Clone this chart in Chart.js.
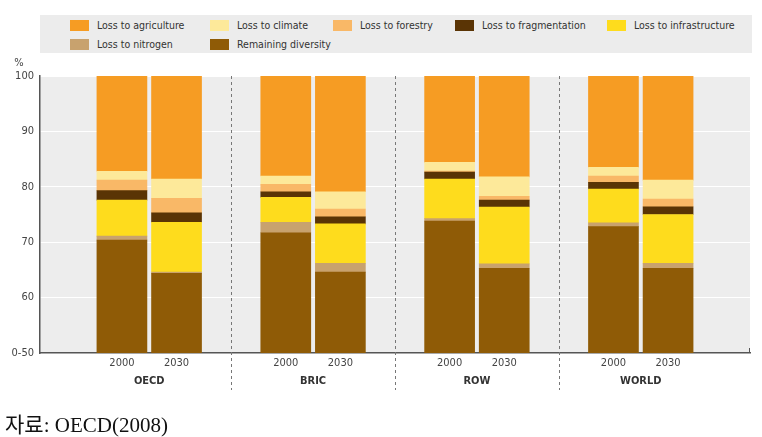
<!DOCTYPE html>
<html>
<head>
<meta charset="utf-8">
<script src="https://cdn.jsdelivr.net/npm/chart.js@4"></script>
<style>
  body { margin: 0; background: #fff; }
  #wrap { position: relative; width: 762px; height: 437px; }
  #chart { position: absolute; left: 0; top: 0; }
  #legend { position: absolute; left: 40px; top: 15px; width: 712px; height: 38px; background: #ececec;
    font: 10.5px 'Liberation Sans Narrow', 'DejaVu Sans Condensed', sans-serif; color: #333; }
  .item { position: absolute; display: flex; align-items: center; white-space: nowrap; }
  .sw { width: 19px; height: 11px; margin-right: 8px; }
  #source { position: absolute; left: 5px; top: 408px; font: 21px 'Liberation Serif', 'Noto Sans CJK KR', serif; color: #111; }
</style>
</head>
<body>
<div id="wrap">
  <canvas id="chart" width="762" height="437"></canvas>
  <div id="legend"></div>
  <div id="source">자료: OECD(2008)</div>
</div>
<script>
// groups / years
const groups = ['OECD', 'BRIC', 'ROW', 'WORLD'];
const years = ['2000', '2030'];

// values per bar: OECD 2000, OECD 2030, BRIC 2000, BRIC 2030, ROW 2000, ROW 2030, WORLD 2000, WORLD 2030
const remaining      = [70.4, 64.4, 71.7, 64.6, 73.8, 65.3, 72.8, 65.3];
const nitrogen       = [0.7, 0.2, 1.9, 1.6, 0.45, 0.8, 0.7, 0.9];
const infrastructure = [6.5, 9.0, 4.5, 7.1, 7.15, 10.25, 6.1, 8.8];
const fragmentation  = [1.7, 1.7, 1.0, 1.3, 1.25, 1.25, 1.2, 1.4];
const forestry       = [1.9, 2.6, 1.35, 1.4, 0.2, 0.7, 1.15, 1.4];
const climate        = [1.6, 3.5, 1.5, 3.1, 1.55, 3.5, 1.55, 3.4];
const agriculture    = [17.15, 18.6, 18.05, 20.9, 15.6, 18.2, 16.5, 18.8];

const yTicks = [50, 60, 70, 80, 90, 100];

// stack order bottom -> top
const series = [
  { label: 'Remaining diversity',   data: remaining,      color: '#8f5b06' },
  { label: 'Loss to nitrogen',      data: nitrogen,       color: '#c8a26e' },
  { label: 'Loss to infrastructure',data: infrastructure, color: '#fedc1d' },
  { label: 'Loss to fragmentation', data: fragmentation,  color: '#5a3405' },
  { label: 'Loss to forestry',      data: forestry,       color: '#f9b867' },
  { label: 'Loss to climate',       data: climate,        color: '#fde99a' },
  { label: 'Loss to agriculture',   data: agriculture,    color: '#f69c23' }
];
const legendOrder = ['Loss to agriculture', 'Loss to climate', 'Loss to forestry', 'Loss to fragmentation',
  'Loss to infrastructure', 'Loss to nitrogen', 'Remaining diversity'];
const legendCols = [30, 170, 293, 415, 567];

// slots: spacer, 2000, 2030, spacer, ...
const labels = [''];
groups.forEach(() => { labels.push(years[0], years[1], ''); });
function spread(arr) {
  const out = [null];
  for (let g = 0; g < groups.length; g++) out.push(arr[g * 2], arr[g * 2 + 1], null);
  return out;
}

const FONT = "'Liberation Sans Narrow', 'DejaVu Sans Condensed', sans-serif";

const extras = {
  id: 'extras',
  beforeDraw(chart) {
    const { ctx, chartArea: a } = chart;
    ctx.save();
    ctx.fillStyle = '#ededed';
    ctx.fillRect(a.left, a.top, a.right - a.left, a.bottom - a.top);
    ctx.restore();
  },
  afterDraw(chart) {
    const { ctx, chartArea: a } = chart;
    const x = chart.scales.x;
    ctx.save();
    ctx.strokeStyle = '#777';
    ctx.lineWidth = 1;
    ctx.setLineDash([3, 3]);
    for (let g = 0; g < groups.length - 1; g++) {
      const px = Math.round(x.getPixelForValue(g * 3 + 3)) + 0.5;
      ctx.beginPath(); ctx.moveTo(px, a.top); ctx.lineTo(px, 390); ctx.stroke();
    }
    ctx.setLineDash([]);
    // small end tick at right of base line
    ctx.strokeStyle = '#555';
    ctx.beginPath(); ctx.moveTo(a.right - 0.5, a.bottom); ctx.lineTo(a.right - 0.5, a.bottom - 5); ctx.stroke();
    ctx.fillStyle = '#333';
    ctx.font = 'bold 11px ' + FONT;
    ctx.textAlign = 'center';
    ctx.textBaseline = 'middle';
    groups.forEach((name, g) => {
      const px = (x.getPixelForValue(g * 3 + 1) + x.getPixelForValue(g * 3 + 2)) / 2;
      ctx.fillText(name, px, 381);
    });
    ctx.font = '11px ' + FONT;
    ctx.fillStyle = '#444';
    ctx.fillText('%', 19, 63);
    ctx.restore();
  }
};

new Chart(document.getElementById('chart'), {
  type: 'bar',
  data: {
    labels: labels,
    datasets: series.map(s => ({ label: s.label, data: spread(s.data), backgroundColor: s.color, barThickness: 50 }))
  },
  options: {
    responsive: false, animation: false,
    layout: { padding: { top: 76, right: 12, left: 0, bottom: 0 } },
    plugins: { legend: { display: false }, tooltip: { enabled: false } },
    scales: {
      x: {
        stacked: true,
        grid: { display: false, drawTicks: false, tickLength: 0 },
        border: { display: true, color: '#555', width: 1.5 },
        ticks: { autoSkip: false, maxRotation: 0, padding: 4, color: '#444', font: { family: FONT, size: 11 } },
        afterFit: s => { s.height = 84; }
      },
      y: {
        stacked: true, min: 50, max: 100,
        afterBuildTicks: s => { s.ticks = yTicks.map(v => ({ value: v })); },
        grid: { color: '#ffffff', lineWidth: 1, drawTicks: false },
        border: { display: true, color: '#555', width: 1.5 },
        ticks: { padding: 6, color: '#444', font: { family: FONT, size: 11 },
          callback: v => v === 50 ? '0-50' : v },
        afterFit: s => { s.width = 40; }
      }
    }
  },
  plugins: [extras]
});

// html legend
const legendEl = document.getElementById('legend');
legendOrder.forEach((name, i) => {
  const s = series.find(d => d.label === name);
  const row = i < 5 ? 0 : 1;
  const col = i < 5 ? i : i - 5;
  const el = document.createElement('div');
  el.className = 'item';
  el.style.left = legendCols[col] + 'px';
  el.style.top = (row === 0 ? 4 : 23) + 'px';
  el.innerHTML = '<span class="sw" style="background:' + s.color + '"></span><span>' + name + '</span>';
  legendEl.appendChild(el);
});
</script>
</body>
</html>
